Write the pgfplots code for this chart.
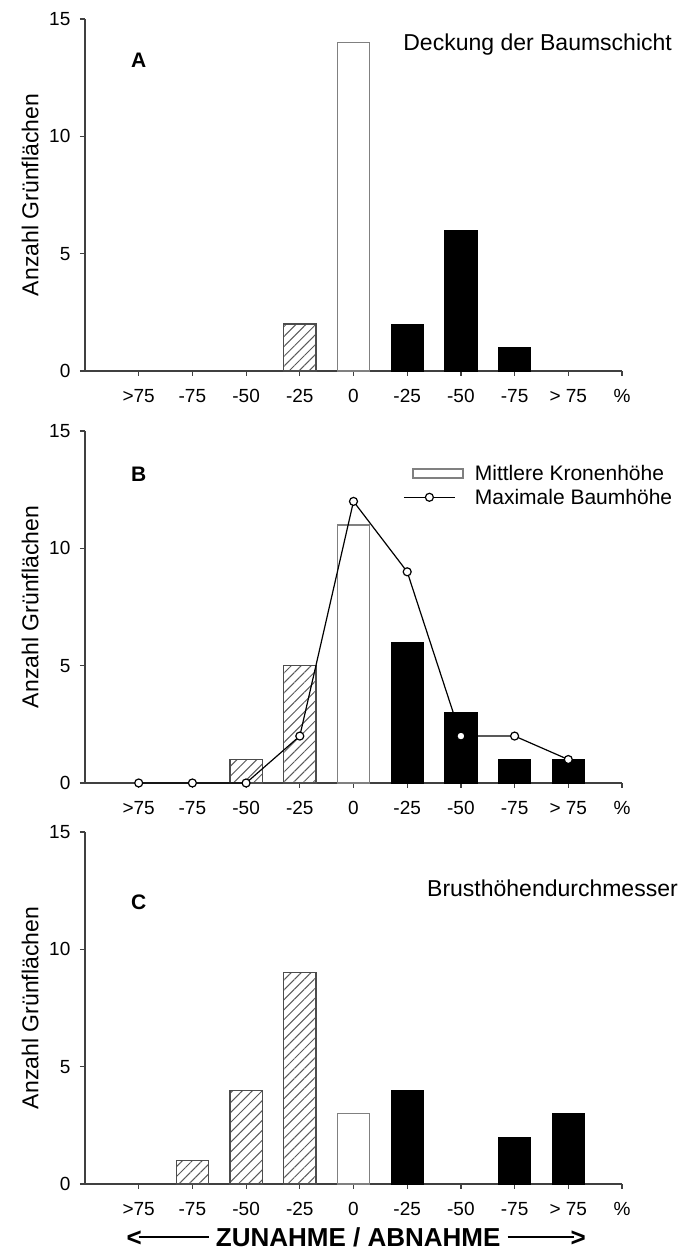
\documentclass[border=0pt]{standalone}
\usepackage{fontspec}
\setmainfont{Liberation Sans}
\usepackage{pgfplots}
\pgfplotsset{compat=1.18}
\usetikzlibrary{patterns.meta}

\pgfplotsset{
  panel/.style={
    scale only axis, width=268.5pt, height=176pt,
    xmin=0, xmax=10, ymin=0, ymax=15,
    axis x line=bottom, axis y line=left,
    axis line style={-, black!75, line width=0.6pt},
    xtick={1,...,10},
    xticklabels={>75,-75,-50,-25,0,-25,-50,-75,> 75,\%},
    ytick={0,5,10,15},
    tick align=outside, major tick length=2.5pt,
    tick style={black!75, line width=0.6pt},
    ticklabel style={font=\fontsize{9.5}{10}\selectfont},
    /pgf/number format/assume math mode=true,
    xticklabel style={yshift=-3pt},
    yticklabel style={xshift=-1.3pt},
    ylabel={Anzahl Grünflächen},
    ylabel style={font=\fontsize{11.5}{12}\selectfont,
      at={(axis description cs:-0.102,0.5)}, anchor=center},
    clip=false,
  },
  hatch/.style={ybar, bar width=0.6, bar shift=0pt, draw=black!70, line width=0.6pt,
    pattern={Lines[angle=45,distance=3.5pt,line width=0.5pt]}, pattern color=black!65},
  open/.style={ybar, bar width=0.6, bar shift=0pt, draw=black!50, fill=white, line width=0.8pt},
  solid/.style={ybar, bar width=0.6, bar shift=0pt, draw=black, fill=black},
  boxleg/.style={legend image code/.code={%
    \path[draw=none, fill=none] (-4.5pt,-3pt) rectangle (30pt,3pt);
    \draw[draw=black!50, fill=white, line width=0.8pt] (0pt,-2.25pt) rectangle (25pt,2.25pt);}},
  lineleg/.style={legend image code/.code={%
    \path[draw=none, fill=none] (-4.5pt,-3pt) rectangle (30pt,3pt);
    \draw[mark repeat=2, mark phase=2, ##1] plot coordinates {(-4.5pt,0pt) (8.25pt,0pt) (21pt,0pt)};}},
}

\begin{document}
\begin{tikzpicture}
\useasboundingbox (0,0) rectangle (343pt,627pt);

% A
\begin{axis}[panel, at={(42.5pt,441.5pt)}, anchor=south west]
\addplot[hatch] coordinates {(4,2)};
\addplot[open] coordinates {(5,14)};
\addplot[solid] coordinates {(6,2) (7,6) (8,1)};
\node[font=\bfseries\fontsize{10.5}{11}\selectfont] at (axis cs:1,13.25) {A};
\node[anchor=east, font=\fontsize{11.5}{12}\selectfont] at (axis cs:11.06,13.9) {Deckung der Baumschicht};
\end{axis}

% B
\begin{axis}[panel, at={(42.5pt,235.5pt)}, anchor=south west,
  legend style={at={(axis cs:5.92,13.62)}, anchor=north west, draw=none, fill=none,
    inner sep=0pt, row sep=2.5pt, font=\fontsize{10.5}{11}\selectfont,
    nodes={inner sep=1pt, text height=7.5pt, text depth=0pt}},
  legend cell align=left]
\addplot[hatch, forget plot] coordinates {(3,1) (4,5)};
\addplot[open, forget plot] coordinates {(5,11)};
\addplot[solid, forget plot] coordinates {(6,6) (7,3) (8,1) (9,1)};
\addlegendimage{boxleg}
\addlegendentry{Mittlere Kronenhöhe}
\addplot[black, line width=0.6pt, mark=*, mark size=2pt,
  mark options={fill=white, draw=black, line width=0.6pt}, lineleg]
  coordinates {(1,0) (2,0) (3,0) (4,2) (5,12) (6,9) (7,2) (8,2) (9,1)};
\addlegendentry{Maximale Baumhöhe}
\node[font=\bfseries\fontsize{10.5}{11}\selectfont] at (axis cs:1,13.17) {B};
\end{axis}

% C
\begin{axis}[panel, at={(42.5pt,35pt)}, anchor=south west]
\addplot[hatch] coordinates {(2,1) (3,4) (4,9)};
\addplot[open] coordinates {(5,3)};
\addplot[solid] coordinates {(6,4) (8,2) (9,3)};
\node[font=\bfseries\fontsize{10.5}{11}\selectfont] at (axis cs:1,12.0) {C};
\node[anchor=east, font=\fontsize{11.5}{12}\selectfont] at (axis cs:11.17,12.6) {Brusthöhendurchmesser};
\node[font=\bfseries\fontsize{13}{13}\selectfont] at (axis cs:5.05,-2.28)
  {<\kern-1.5pt\rule[0.32em]{35pt}{1pt}\ ZUNAHME / ABNAHME\ \rule[0.32em]{33pt}{1pt}\kern-1.5pt>};
\end{axis}
\end{tikzpicture}
\end{document}
